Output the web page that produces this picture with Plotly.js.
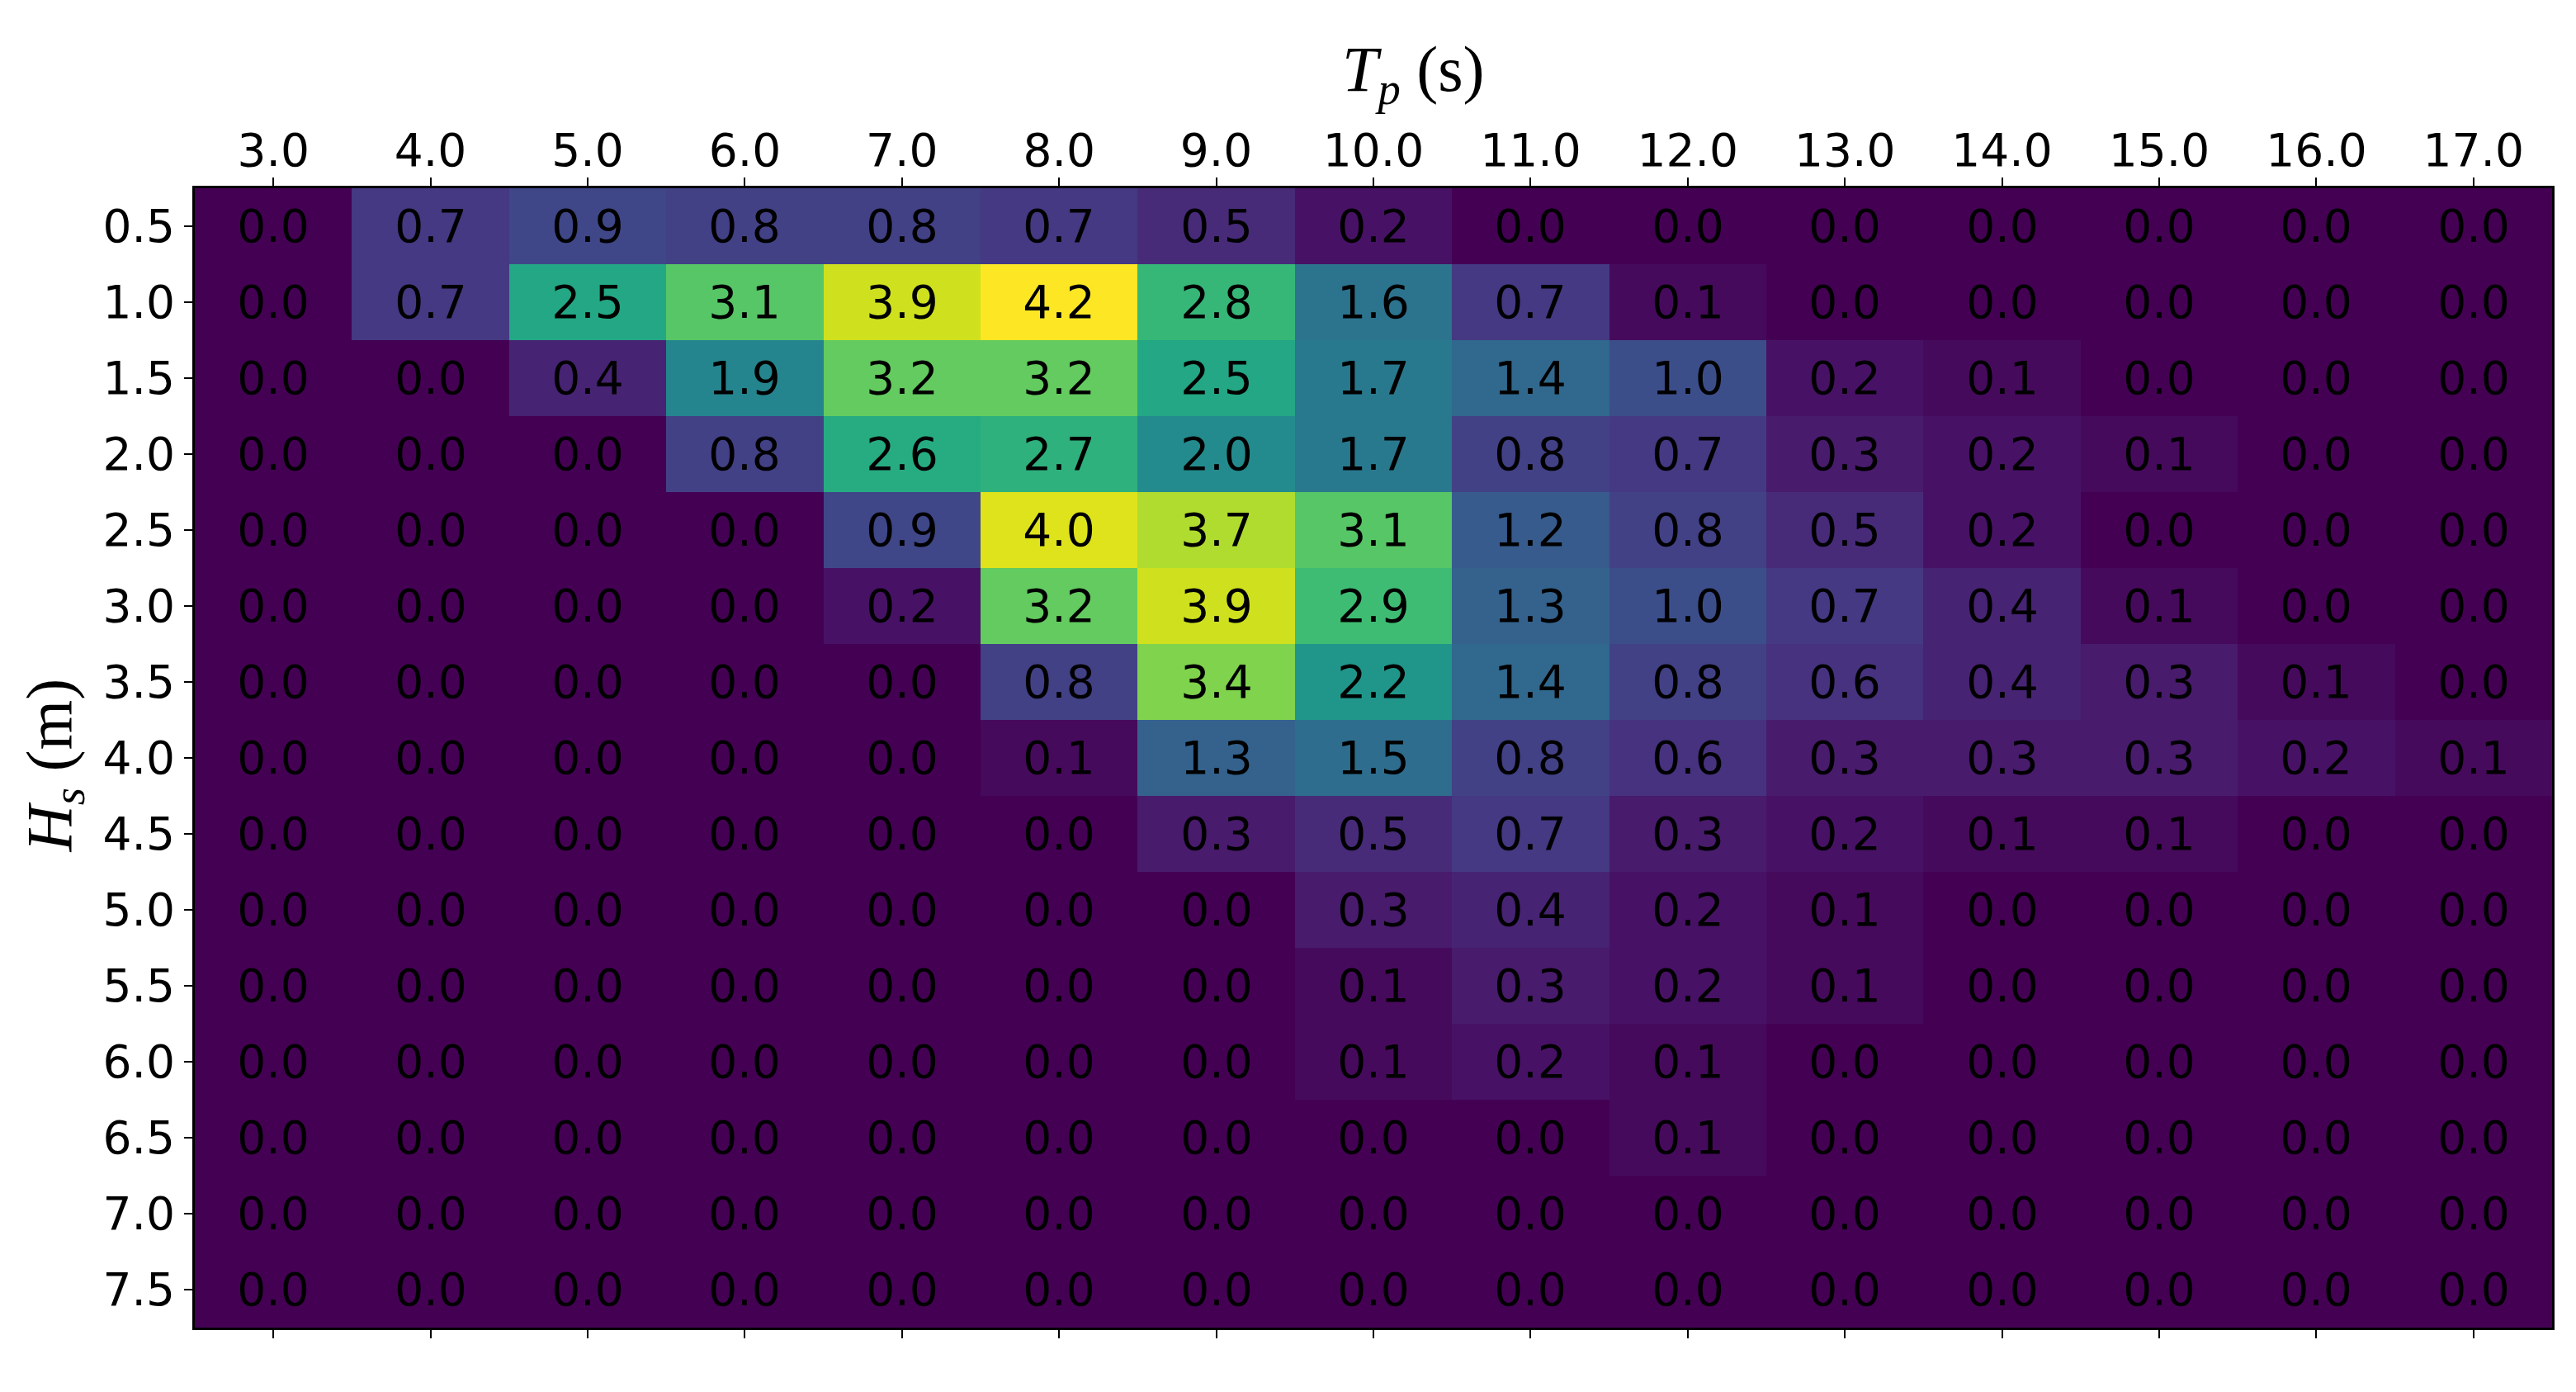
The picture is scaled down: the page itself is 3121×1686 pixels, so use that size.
<!DOCTYPE html>
<html>
<head>
<meta charset="utf-8">
<script src="https://cdn.plot.ly/plotly-3.0.1.min.js"></script>
<style>
  html, body { margin: 0; padding: 0; background: #fff; }
  #chart { width: 3121px; height: 1686px; }
</style>
</head>
<body>
<div id="chart"></div>
<script>
// peak period (s) on x, significant wave height (m) on y
var tp = [3, 4, 5, 6, 7, 8, 9, 10, 11, 12, 13, 14, 15, 16, 17];
var hs = [0.5, 1.0, 1.5, 2.0, 2.5, 3.0, 3.5, 4.0, 4.5, 5.0, 5.5, 6.0, 6.5, 7.0, 7.5];

// occurrence (%) per cell, one row per Hs
var occ = [
	[0.0, 0.7, 0.9, 0.8, 0.8, 0.7, 0.5, 0.2, 0.0, 0.0, 0.0, 0.0, 0.0, 0.0, 0.0],
	[0.0, 0.7, 2.5, 3.1, 3.9, 4.2, 2.8, 1.6, 0.7, 0.1, 0.0, 0.0, 0.0, 0.0, 0.0],
	[0.0, 0.0, 0.4, 1.9, 3.2, 3.2, 2.5, 1.7, 1.4, 1.0, 0.2, 0.1, 0.0, 0.0, 0.0],
	[0.0, 0.0, 0.0, 0.8, 2.6, 2.7, 2.0, 1.7, 0.8, 0.7, 0.3, 0.2, 0.1, 0.0, 0.0],
	[0.0, 0.0, 0.0, 0.0, 0.9, 4.0, 3.7, 3.1, 1.2, 0.8, 0.5, 0.2, 0.0, 0.0, 0.0],
	[0.0, 0.0, 0.0, 0.0, 0.2, 3.2, 3.9, 2.9, 1.3, 1.0, 0.7, 0.4, 0.1, 0.0, 0.0],
	[0.0, 0.0, 0.0, 0.0, 0.0, 0.8, 3.4, 2.2, 1.4, 0.8, 0.6, 0.4, 0.3, 0.1, 0.0],
	[0.0, 0.0, 0.0, 0.0, 0.0, 0.1, 1.3, 1.5, 0.8, 0.6, 0.3, 0.3, 0.3, 0.2, 0.1],
	[0.0, 0.0, 0.0, 0.0, 0.0, 0.0, 0.3, 0.5, 0.7, 0.3, 0.2, 0.1, 0.1, 0.0, 0.0],
	[0.0, 0.0, 0.0, 0.0, 0.0, 0.0, 0.0, 0.3, 0.4, 0.2, 0.1, 0.0, 0.0, 0.0, 0.0],
	[0.0, 0.0, 0.0, 0.0, 0.0, 0.0, 0.0, 0.1, 0.3, 0.2, 0.1, 0.0, 0.0, 0.0, 0.0],
	[0.0, 0.0, 0.0, 0.0, 0.0, 0.0, 0.0, 0.1, 0.2, 0.1, 0.0, 0.0, 0.0, 0.0, 0.0],
	[0.0, 0.0, 0.0, 0.0, 0.0, 0.0, 0.0, 0.0, 0.0, 0.1, 0.0, 0.0, 0.0, 0.0, 0.0],
	[0.0, 0.0, 0.0, 0.0, 0.0, 0.0, 0.0, 0.0, 0.0, 0.0, 0.0, 0.0, 0.0, 0.0, 0.0],
	[0.0, 0.0, 0.0, 0.0, 0.0, 0.0, 0.0, 0.0, 0.0, 0.0, 0.0, 0.0, 0.0, 0.0, 0.0]
];

var sans = "DejaVu Sans, sans-serif";
var serif = "Liberation Serif, DejaVu Serif, serif";

var heat = {
	type: 'heatmap',
	x: tp,
	y: hs,
	z: occ,
	zmin: 0,
	zmax: 4.2,
	colorscale: 'Viridis',
	showscale: false,
	texttemplate: '%{z:.1f}',
	textfont: { family: sans, size: 55, color: '#000' },
	hoverinfo: 'skip',
	xgap: 0,
	ygap: 0
};

var axisCommon = {
	showgrid: false,
	zeroline: false,
	showline: true,
	linecolor: '#000',
	linewidth: 3,
	ticks: 'outside',
	ticklen: 10,
	tickwidth: 2,
	tickcolor: '#000',
	tickfont: { family: sans, size: 55, color: '#000' },
	tickformat: '.1f'
};

var layout = {
	width: 3121,
	height: 1686,
	margin: { l: 236, r: 29, t: 228, b: 78, pad: 0 },
	paper_bgcolor: '#fff',
	plot_bgcolor: '#fff',
	showlegend: false,
	xaxis: Object.assign({}, axisCommon, {
		side: 'top',
		mirror: 'ticks',
		range: [2.5, 17.5],
		tickvals: tp,
		ticklabelstandoff: -8
	}),
	yaxis: Object.assign({}, axisCommon, {
		mirror: true,
		range: [7.75, 0.25],
		tickvals: hs,
		ticklabelstandoff: 0
	}),
	annotations: [
		{
			xref: 'paper', yref: 'paper',
			x: 0.517, y: 1.101,
			xanchor: 'center', yanchor: 'middle',
			showarrow: false,
			text: '<i>T</i><sub><i>p</i></sub> (s)',
			font: { family: serif, size: 78, color: '#000' }
		},
		{
			xref: 'paper', yref: 'paper',
			x: -0.06, y: 0.4935,
			xanchor: 'center', yanchor: 'middle',
			showarrow: false,
			textangle: -90,
			text: '<i>H</i><sub><i>s</i></sub> (m)',
			font: { family: serif, size: 78, color: '#000' }
		}
	]
};

var config = {
	displayModeBar: false,
	staticPlot: true
};

Plotly.newPlot('chart', [heat], layout, config);
</script>
</body>
</html>
